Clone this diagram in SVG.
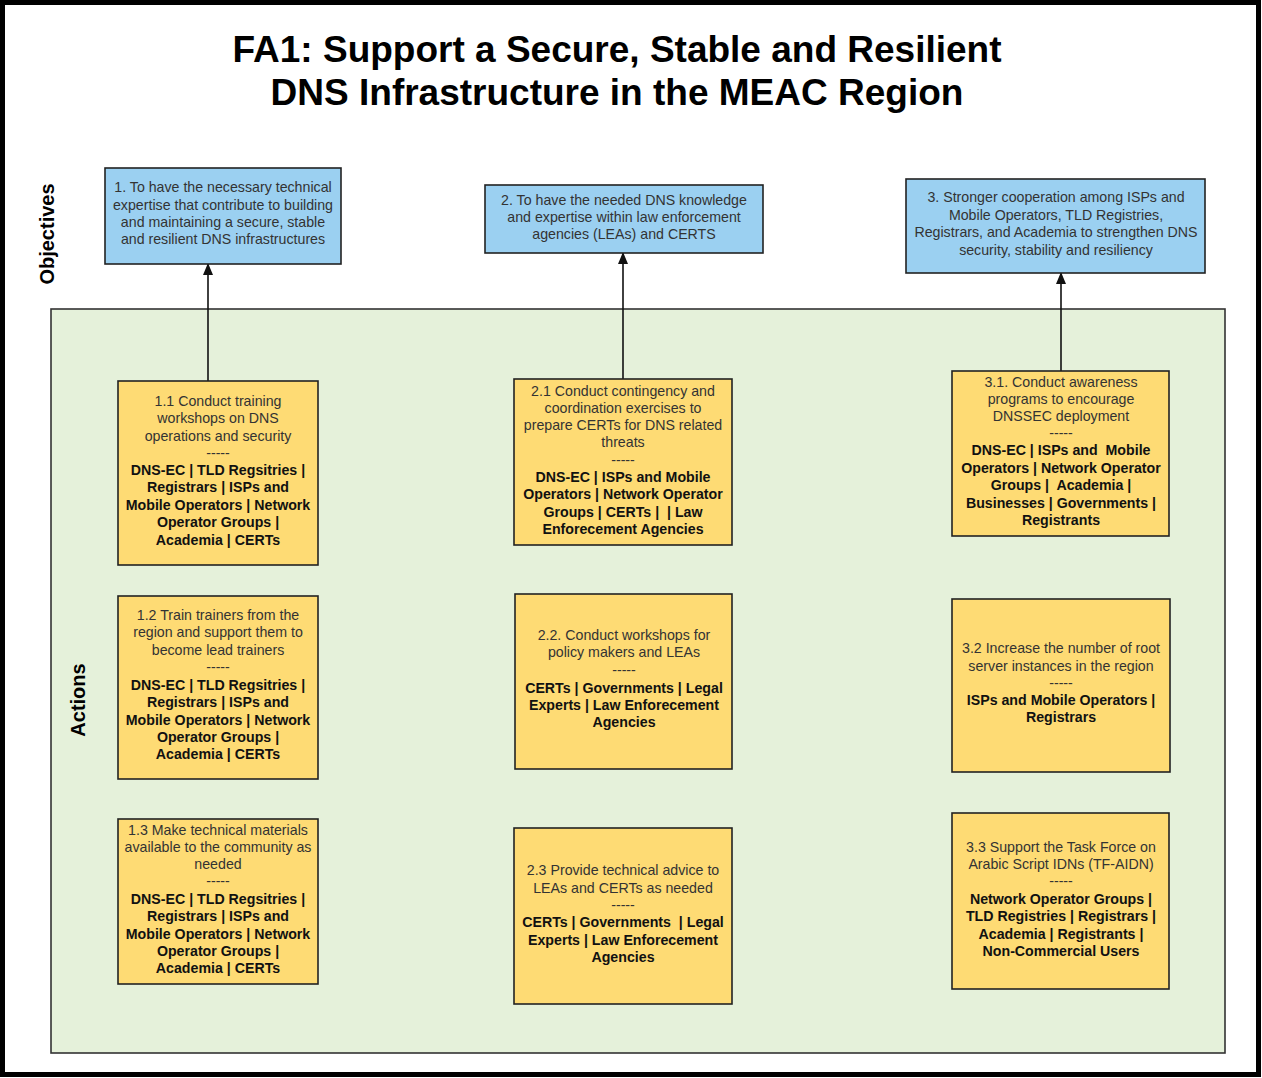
<svg xmlns="http://www.w3.org/2000/svg" width="1262" height="1078" viewBox="0 0 1262 1078">
<style>
text{font-family:"Liberation Sans",Arial,sans-serif;text-anchor:middle}
.t{font-size:37px;font-weight:bold;fill:#000}
.lbl{font-size:20px;font-weight:bold;fill:#000}
.n{font-size:14.2px;fill:#333}
.b{font-size:14.2px;font-weight:bold;fill:#111}
.obj{fill:#9BD0F1;stroke:#222;stroke-width:1.6}
.act{fill:#FEDB74;stroke:#222;stroke-width:1.6}
.con{stroke:#111;stroke-width:1.6;fill:none;marker-end:url(#ah)}
</style>
<defs>
<marker id="ah" viewBox="0 0 12 10" refX="11" refY="5" markerWidth="12" markerHeight="10" markerUnits="userSpaceOnUse" orient="auto"><path d="M0,0 L12,5 L0,10 z" fill="#111"/></marker>
</defs>
<rect x="0" y="0" width="1262" height="1078" fill="#fff"/>
<rect x="2.5" y="2.5" width="1256" height="1072" fill="none" stroke="#000" stroke-width="5"/>
<g id="title">
<text class="t" x="617" y="62">FA1: Support a Secure, Stable and Resilient</text>
<text class="t" x="617" y="105">DNS Infrastructure in the MEAC Region</text>
</g>
<g id="actions-panel">
<rect x="51" y="309" width="1174" height="744" fill="#E5F1DA" stroke="#333" stroke-width="1.6"/>
</g>
<text class="lbl" transform="translate(54,234) rotate(-90)">Objectives</text>
<text class="lbl" transform="translate(85,700) rotate(-90)">Actions</text>
<g id="connectors">
<path class="con" d="M208,381 V264"/>
<path class="con" d="M623,379 V253"/>
<path class="con" d="M1061,371 V273"/>
</g>
<g id="obj1">
<rect class="obj" x="105" y="168" width="236" height="96"/>
<text class="n" x="223" y="192">1. To have the necessary technical</text>
<text class="n" x="223" y="210">expertise that contribute to building</text>
<text class="n" x="223" y="227">and maintaining a secure, stable</text>
<text class="n" x="223" y="244">and resilient DNS infrastructures</text>
</g>
<g id="obj2">
<rect class="obj" x="485" y="185" width="278" height="68"/>
<text class="n" x="624" y="205">2. To have the needed DNS knowledge</text>
<text class="n" x="624" y="222">and expertise within law enforcement</text>
<text class="n" x="624" y="239">agencies (LEAs) and CERTS</text>
</g>
<g id="obj3">
<rect class="obj" x="906" y="179" width="299" height="94"/>
<text class="n" x="1056" y="202">3. Stronger cooperation among ISPs and</text>
<text class="n" x="1056" y="220">Mobile Operators, TLD Registries,</text>
<text class="n" x="1056" y="237">Registrars, and Academia to strengthen DNS</text>
<text class="n" x="1056" y="255">security, stability and resiliency</text>
</g>
<g id="a11">
<rect class="act" x="118" y="381" width="200" height="184"/>
<text class="n" x="218" y="406">1.1 Conduct training</text>
<text class="n" x="218" y="423">workshops on DNS</text>
<text class="n" x="218" y="441">operations and security</text>
<text class="n" x="218" y="458">-----</text>
<text class="b" x="218" y="475">DNS-EC | TLD Regsitries |</text>
<text class="b" x="218" y="492">Registrars | ISPs and</text>
<text class="b" x="218" y="510">Mobile Operators | Network</text>
<text class="b" x="218" y="527">Operator Groups |</text>
<text class="b" x="218" y="545">Academia | CERTs</text>
</g>
<g id="a12">
<rect class="act" x="118" y="596" width="200" height="183"/>
<text class="n" x="218" y="620">1.2 Train trainers from the</text>
<text class="n" x="218" y="637">region and support them to</text>
<text class="n" x="218" y="655">become lead trainers</text>
<text class="n" x="218" y="672">-----</text>
<text class="b" x="218" y="690">DNS-EC | TLD Regsitries |</text>
<text class="b" x="218" y="707">Registrars | ISPs and</text>
<text class="b" x="218" y="725">Mobile Operators | Network</text>
<text class="b" x="218" y="742">Operator Groups |</text>
<text class="b" x="218" y="759">Academia | CERTs</text>
</g>
<g id="a13">
<rect class="act" x="118" y="819" width="200" height="165"/>
<text class="n" x="218" y="835">1.3 Make technical materials</text>
<text class="n" x="218" y="852">available to the community as</text>
<text class="n" x="218" y="869">needed</text>
<text class="n" x="218" y="886">-----</text>
<text class="b" x="218" y="904">DNS-EC | TLD Regsitries |</text>
<text class="b" x="218" y="921">Registrars | ISPs and</text>
<text class="b" x="218" y="939">Mobile Operators | Network</text>
<text class="b" x="218" y="956">Operator Groups |</text>
<text class="b" x="218" y="973">Academia | CERTs</text>
</g>
<g id="a21">
<rect class="act" x="514" y="379" width="218" height="166"/>
<text class="n" x="623" y="396">2.1 Conduct contingency and</text>
<text class="n" x="623" y="413">coordination exercises to</text>
<text class="n" x="623" y="430">prepare CERTs for DNS related</text>
<text class="n" x="623" y="447">threats</text>
<text class="n" x="623" y="465">-----</text>
<text class="b" x="623" y="482">DNS-EC | ISPs and Mobile</text>
<text class="b" x="623" y="499">Operators | Network Operator</text>
<text class="b" x="623" y="517">Groups | CERTs |&#160; | Law</text>
<text class="b" x="623" y="534">Enforecement Agencies</text>
</g>
<g id="a22">
<rect class="act" x="515" y="594" width="217" height="175"/>
<text class="n" x="624" y="640">2.2. Conduct workshops for</text>
<text class="n" x="624" y="657">policy makers and LEAs</text>
<text class="n" x="624" y="675">-----</text>
<text class="b" x="624" y="693">CERTs | Governments | Legal</text>
<text class="b" x="624" y="710">Experts | Law Enforecement</text>
<text class="b" x="624" y="727">Agencies</text>
</g>
<g id="a23">
<rect class="act" x="514" y="828" width="218" height="176"/>
<text class="n" x="623" y="875">2.3 Provide technical advice to</text>
<text class="n" x="623" y="893">LEAs and CERTs as needed</text>
<text class="n" x="623" y="910">-----</text>
<text class="b" x="623" y="927">CERTs | Governments&#160; | Legal</text>
<text class="b" x="623" y="945">Experts | Law Enforecement</text>
<text class="b" x="623" y="962">Agencies</text>
</g>
<g id="a31">
<rect class="act" x="952" y="371" width="217" height="165"/>
<text class="n" x="1061" y="387">3.1. Conduct awareness</text>
<text class="n" x="1061" y="404">programs to encourage</text>
<text class="n" x="1061" y="421">DNSSEC deployment</text>
<text class="n" x="1061" y="438">-----</text>
<text class="b" x="1061" y="455">DNS-EC | ISPs and&#160; Mobile</text>
<text class="b" x="1061" y="473">Operators | Network Operator</text>
<text class="b" x="1061" y="490">Groups |&#160; Academia |</text>
<text class="b" x="1061" y="508">Businesses | Governments |</text>
<text class="b" x="1061" y="525">Registrants</text>
</g>
<g id="a32">
<rect class="act" x="952" y="599" width="218" height="173"/>
<text class="n" x="1061" y="653">3.2 Increase the number of root</text>
<text class="n" x="1061" y="671">server instances in the region</text>
<text class="n" x="1061" y="688">-----</text>
<text class="b" x="1061" y="705">ISPs and Mobile Operators |</text>
<text class="b" x="1061" y="722">Registrars</text>
</g>
<g id="a33">
<rect class="act" x="952" y="813" width="217" height="176"/>
<text class="n" x="1061" y="852">3.3 Support the Task Force on</text>
<text class="n" x="1061" y="869">Arabic Script IDNs (TF-AIDN)</text>
<text class="n" x="1061" y="886">-----</text>
<text class="b" x="1061" y="904">Network Operator Groups |</text>
<text class="b" x="1061" y="921">TLD Registries | Registrars |</text>
<text class="b" x="1061" y="939">Academia | Registrants |</text>
<text class="b" x="1061" y="956">Non-Commercial Users</text>
</g>
</svg>
